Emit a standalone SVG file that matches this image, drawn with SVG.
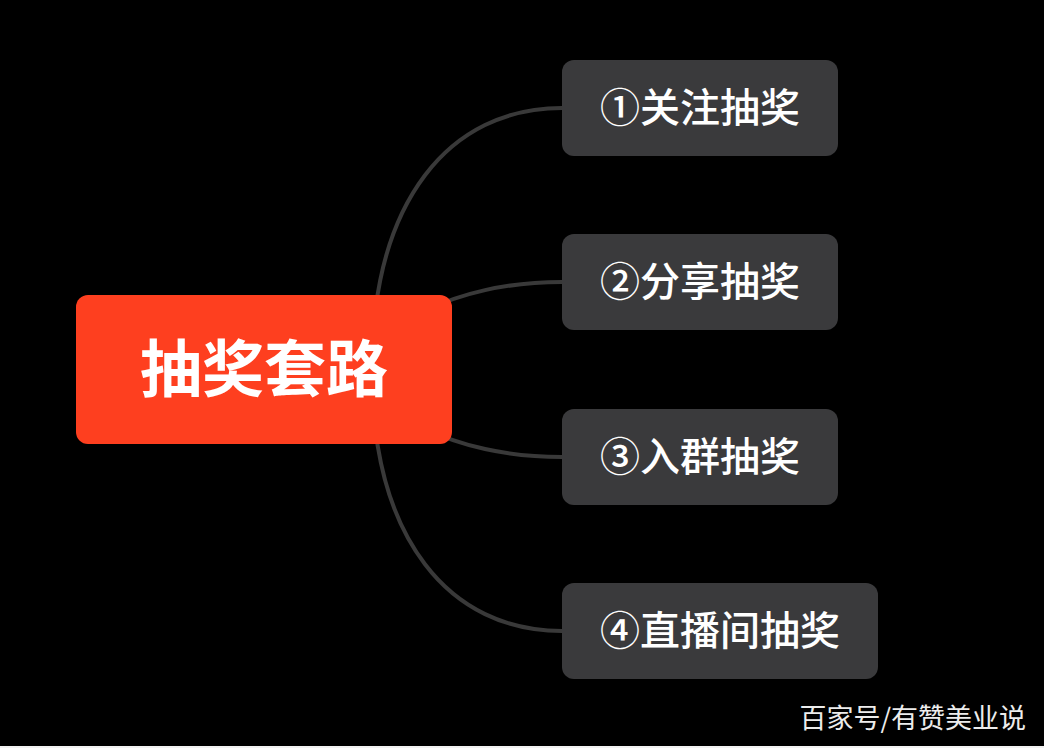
<svg xmlns="http://www.w3.org/2000/svg" width="1044" height="748" viewBox="0 0 1044 748">
  <style>
    .conn { fill: none; stroke: #393939; stroke-width: 4; stroke-linecap: round; }
    .sub rect { fill: #3a3a3c; }
    .sub text { fill: #ffffff; font-family: "Noto Sans CJK SC", "Noto Sans", sans-serif; font-size: 40px; font-weight: 500; text-anchor: middle; }
    .root rect { fill: #fe3f1f; }
    .root text { fill: #ffffff; font-family: "Noto Sans CJK SC", "Noto Sans", sans-serif; font-size: 62px; font-weight: 700; text-anchor: middle; }
    .wm { fill: #ececec; font-family: "Noto Sans CJK SC", "Noto Sans", sans-serif; font-size: 27px; font-weight: 400; text-anchor: end; }
  </style>
  <rect x="0" y="0" width="1044" height="748" fill="#000000"/>
  <rect x="0" y="746" width="1044" height="2" fill="#f2f2f2"/>
  <g id="connectors">
    <path class="conn" d="M 372 370 C 372 200, 450 108, 562 108"/>
    <path class="conn" d="M 372 370 C 372 330, 450 282, 562 282"/>
    <path class="conn" d="M 372 370 C 372 410, 450 457, 562 457"/>
    <path class="conn" d="M 372 370 C 372 540, 450 631, 562 631"/>
  </g>
  <g id="root" class="root">
    <rect x="76" y="295" width="376" height="149" rx="12"/>
    <text x="264" y="392">抽奖套路</text>
  </g>
  <g id="node1" class="sub">
    <rect x="562" y="60" width="276" height="96" rx="12"/>
    <text x="700" y="122">①关注抽奖</text>
  </g>
  <g id="node2" class="sub">
    <rect x="562" y="234" width="276" height="96" rx="12"/>
    <text x="700" y="296">②分享抽奖</text>
  </g>
  <g id="node3" class="sub">
    <rect x="562" y="409" width="276" height="96" rx="12"/>
    <text x="700" y="471">③入群抽奖</text>
  </g>
  <g id="node4" class="sub">
    <rect x="562" y="583" width="316" height="96" rx="12"/>
    <text x="720" y="645">④直播间抽奖</text>
  </g>
  <text class="wm" x="1026" y="728">百家号/有赞美业说</text>
</svg>
